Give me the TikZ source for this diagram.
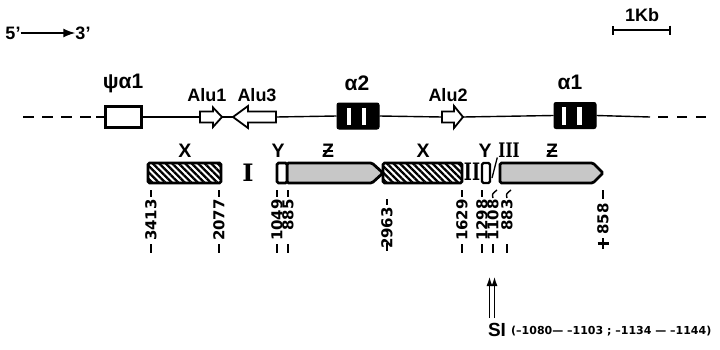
\documentclass[tikz,border=0pt]{standalone}
\usepackage{fontspec}
\setmainfont{Liberation Sans}
\newfontfamily\numfont{DejaVu Sans}
\newfontfamily\romfont{DejaVu Serif}
\usetikzlibrary{patterns.meta,arrows.meta}
\begin{document}
\begin{tikzpicture}[x=1pt,y=-1pt,
  lab/.style={font=\bfseries\fontsize{21}{21}\selectfont,inner sep=0pt},
  small/.style={font=\bfseries\fontsize{18}{18}\selectfont,inner sep=0pt},
  let/.style={font=\bfseries\fontsize{19.5}{19.5}\selectfont,inner sep=0pt},
  rom/.style={font=\romfont\bfseries\fontsize{24}{24}\selectfont,inner sep=0pt},
  num/.style={font=\numfont\bfseries\fontsize{15}{15}\selectfont,inner sep=0pt,rotate=90,anchor=east},
  tick/.style={line width=2.2pt},
  mainline/.style={line width=1.4pt},
  genebox/.style={draw,line width=2.8pt,rounded corners=1.5pt},
  hatch/.style={genebox,fill=white,pattern={Lines[angle=-45,distance=4.6pt,line width=2.3pt]}},
  stip/.style={genebox,fill=black!22},
  alu/.style={draw,fill=white,line width=1.8pt,line join=miter},
  exon/.style={draw,fill=black,line width=1pt,rounded corners=2pt,minimum width=42pt,minimum height=26pt,inner sep=0pt},
  whitebar/.style={fill=white}
]
\useasboundingbox (0,0) rectangle (720,349);

% 5' -> 3'
\node[small] (five) at (13,33) {5'};
\node[small] (three) at (83,33) {3'};
\draw[line width=1.5pt,-{Latex[length=12pt,width=9pt]}] (five.east) -- (three.west);

% scale bar
\node[small] (kb) at (642,15) {1Kb};
\coordinate (kbl) at (612,30);
\coordinate (kbr) at (671,30);
\draw[line width=1.6pt,{Bar[width=9pt]}-{Bar[width=9pt]}] (kbl) -- (kbr);

% main line nodes
\node[draw,fill=white,line width=2.8pt,minimum width=36pt,minimum height=21pt,inner sep=0pt] (psi) at (123.5,117) {};
\node[exon] (a2) at (358,116) {};
\node[exon] (a1) at (575,115.5) {};
\coordinate (alu1w) at (200,117);
\coordinate (alu1e) at (222,117);
\coordinate (alu3w) at (233,117);
\coordinate (alu3e) at (276,117);
\coordinate (alu2w) at (442,117);
\coordinate (alu2e) at (463,117);
\coordinate (lend) at (23,117);
\coordinate (lsol) at (96,117);
\coordinate (rsol) at (650,117);
\coordinate (rend) at (708,117);

\draw[mainline] (lsol) -- (psi.west);
\draw[mainline,dash pattern=on 11pt off 8pt] (lend) -- (lsol);
\draw[mainline] (psi.east) -- (alu1w);
\draw[mainline] (alu1e) -- (alu3w);
\draw[mainline] (alu3e) -- (a2.west);
\draw[mainline] (a2.east) -- (alu2w);
\draw[mainline] (alu2e) -- (a1.west);
\draw[mainline] (a1.east) -- (rsol);
\draw[mainline,dash pattern=on 10pt off 9pt] ([xshift=8pt]rsol) -- (rend);

% exon white bars
\fill[whitebar] (346.5,108) rectangle (350.5,125);
\fill[whitebar] (361.5,108) rectangle (366,125);
\fill[whitebar] (562,107) rectangle (566,125);
\fill[whitebar] (577,107) rectangle (582,125);

% Alu arrows
\draw[alu] (alu1w) -- (200,111.5) -- (213,111.5) -- (213,107.5) -- (alu1e) -- (213,127) -- (213,122.5) -- (200,122.5) -- cycle;
\draw[alu] (alu3e) -- (276,111.5) -- (248,111.5) -- (248,106) -- (alu3w) -- (248,128) -- (248,122.5) -- (276,122.5) -- cycle;
\draw[alu] (alu2w) -- (442,111.5) -- (454,111.5) -- (454,106) -- (alu2e) -- (454,128) -- (454,122.5) -- (442,122.5) -- cycle;

% top labels
\node[lab] (lpsi) at (123,83) {ψα1};
\node[small] (lalu1) at (207,95) {Alu1};
\node[small] (lalu3) at (257,95) {Alu3};
\node[lab] (la2) at (357,83) {α2};
\node[small] (lalu2) at (448,95) {Alu2};
\node[lab] (la1) at (570,82) {α1};

% lower bars
\draw[hatch] (148,163) rectangle (221,183);
\draw[stip] (287,163) -- (372,163) -- (383,173) -- (372,183) -- (287,183) -- cycle;
\draw[genebox,fill=white] (277,163) rectangle (287,183);
\draw[hatch] (383,163) rectangle (462,183);
\draw[genebox,fill=white,line width=2.2pt] (482,163) rectangle (490,183);
\draw[stip] (500,163) -- (593,163) -- (603,173) -- (593,183) -- (500,183) -- cycle;

% lower labels
\node[let] (x1) at (185,151) {X};
\node[let] (y1) at (278,151) {Y};
\node[let] (z1) at (328,151) {Z};
\draw[line width=1.8pt] ([xshift=-5pt]z1.center) -- ([xshift=5pt]z1.center);
\node[let] (x2) at (423,151) {X};
\node[let] (y2) at (485,151) {Y};
\node[rom,font=\romfont\bfseries\fontsize{20}{20}\selectfont] (r3) at (509,150) {\scalebox{0.75}[1]{III}};
\node[let] (z2) at (552,151) {Z};
\draw[line width=1.8pt] ([xshift=-5pt]z2.center) -- ([xshift=5pt]z2.center);
\node[rom] (r1) at (248,173) {I};
\node[rom] (r2) at (472,172) {\scalebox{0.72}[1]{II}};
\coordinate (sl) at (492,178);
\draw[line width=1.3pt] (sl) -- ([xshift=-1pt]r3.south west);

% coordinate labels
\foreach \x/\n/\t in {151/a/3413,219/b/2077,277/c/1049,288/d/885,462/f/1629,482/g/1298,493/h/1108,507/i/883}{
  \node[num] (n\n) at (\x,199) {\t};
  \draw[tick] (\x,244) -- (\x,253);
}
\foreach \x in {151,219,277,288,462,482}{ \draw[tick] (\x,190) -- (\x,197); }
\draw[line width=1.4pt] (493,198) .. controls (492,194) .. (497,190);
\draw[line width=1.4pt] (507,198) .. controls (506,194) .. (511,190);
\node[num] (ne) at (387,207) {2963};
\draw[tick] (387,199) -- (387,205);
\draw[tick] (387,243) -- (387,251);
\node[num] (nj) at (603,203) {858};
\draw[tick] (603,190) -- (603,199);
\draw[tick] (603,238) -- (603,249);
\draw[tick] (597.5,243.5) -- (608.5,243.5);

% SI
\node[font=\bfseries\fontsize{19}{19}\selectfont,inner sep=0pt] (si) at (497,330) {SI};
\node[inner sep=0pt,anchor=west,font=\numfont\bfseries\fontsize{11}{11}\selectfont] (sir) at (511,331) {(–1080— –1103 ; –1134 — –1144)};
\coordinate (s1b) at (489.5,318);
\coordinate (s1t) at (489.5,277);
\coordinate (s2b) at (494.5,318);
\coordinate (s2t) at (494.5,277);
\draw[line width=1pt,-{Latex[length=9pt,width=6pt]}] (s1b) -- (s1t);
\draw[line width=1pt,-{Latex[length=9pt,width=6pt]}] (s2b) -- (s2t);
\end{tikzpicture}
\end{document}
